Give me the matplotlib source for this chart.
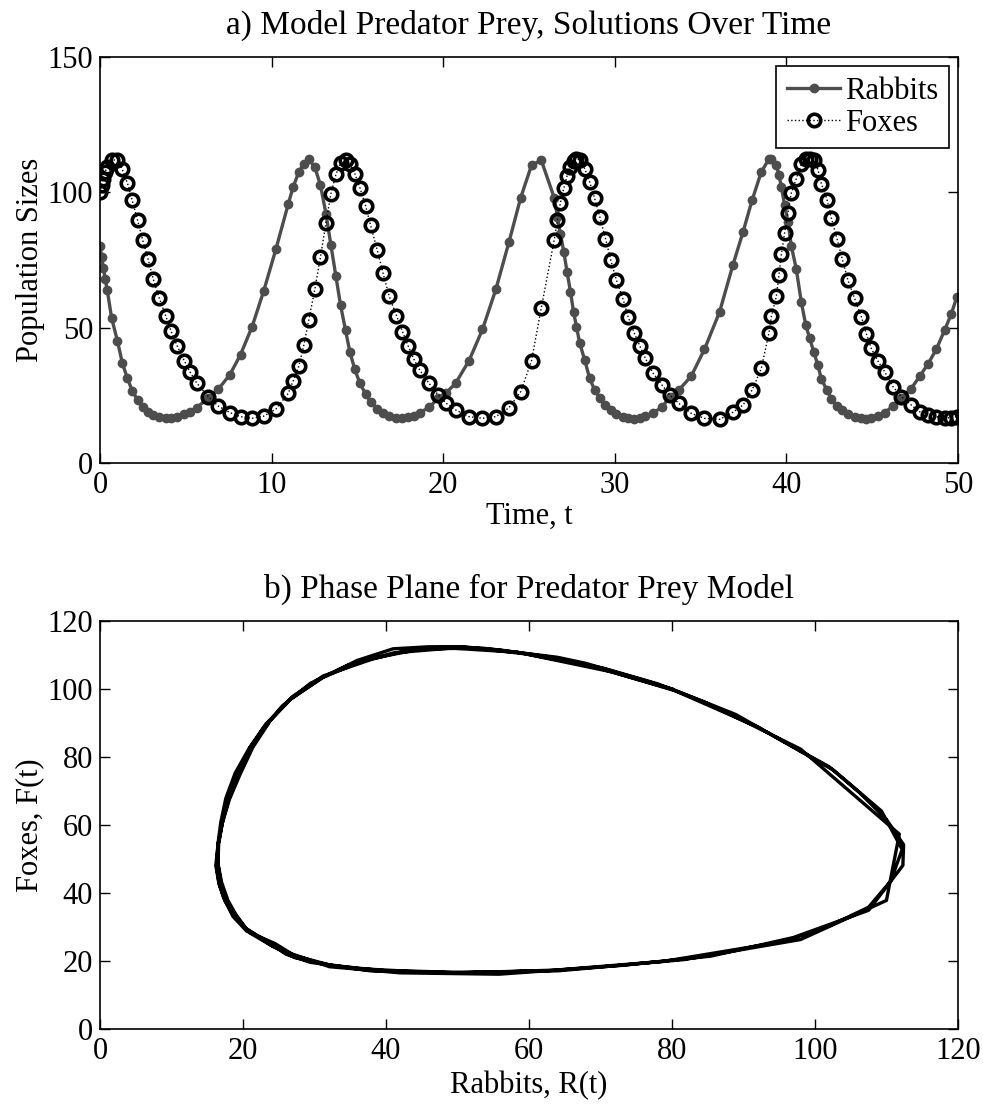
import matplotlib
matplotlib.use('Agg')
import matplotlib.pyplot as plt

plt.rcParams['font.family'] = ['Liberation Serif', 'DejaVu Serif']
plt.rcParams['mathtext.fontset'] = 'stix'

# solver output: time, rabbits, foxes
t = [0, 0.10, 0.20, 0.30, 0.42, 0.68, 1.02, 1.30, 1.60, 1.88, 2.19, 2.49, 2.81,
     3.11, 3.46, 3.83, 4.14, 4.50, 4.91, 5.24, 5.63, 6.31, 6.89, 7.57, 8.19,
     8.87, 9.55, 10.25, 10.97, 11.26, 11.59, 11.88, 12.17,
     12.52, 12.85, 13.17, 13.46, 13.75, 14.02, 14.31, 14.56, 14.85, 15.15,
     15.48, 15.77, 16.16, 16.50, 16.85, 17.28, 17.63, 17.96, 18.29, 18.64,
     19.18, 19.71, 20.19, 20.72, 21.51, 22.29, 23.07, 23.84,
     24.52, 25.15, 25.72, 26.47, 26.66, 26.83, 27.03, 27.22, 27.42, 27.60,
     27.77, 27.96, 28.25, 28.54, 28.83, 29.13, 29.46, 29.77, 30.10, 30.49,
     30.78, 31.13, 31.46, 31.79, 32.24, 32.76, 33.20, 33.72, 34.46, 35.23,
     36.11, 36.88,
     37.48, 38.00, 38.54, 38.99, 39.13, 39.42, 39.57, 39.71, 39.90, 40.10,
     40.29, 40.58, 40.87, 41.13, 41.36, 41.60, 41.84, 42.04, 42.37, 42.62,
     42.95, 43.26, 43.59, 43.98, 44.37, 44.66, 44.95, 45.34, 45.73, 46.21,
     46.70, 47.28, 47.77, 48.25, 48.74, 49.22, 49.61, 49.94]

rabbits = [80, 76, 72, 68, 64, 53.5, 45, 37, 31.2, 26.7, 23.2, 20.8, 18.9,
           17.6, 16.9, 16.5, 16.5, 17.0, 17.9, 19.0, 20.4, 24.0, 27.2, 32.6, 40.0,
           50.4, 63.7, 78.9, 95.6, 102.0, 107.5, 110.6, 112.2,
           109.3, 102.6, 92.1, 80.4, 69.0, 58.3, 49.1, 41.1, 34.6, 29.4,
           25.5, 22.6, 20.0, 18.3, 17.2, 16.6, 16.5, 16.9, 17.5, 18.6,
           20.5, 23.9, 26.0, 29.4, 37.8, 49.3, 64.1, 81.7,
           98.0, 110.0, 111.8, 98.0, 90.9, 84.7, 78.0, 70.6, 63.2, 55.8,
           50.3, 44.2, 38.0, 31.2, 26.9, 23.9, 21.4, 19.6, 18.1, 17.1,
           16.5, 16.2, 16.6, 17.3, 18.6, 20.5, 24.5, 26.8, 32.1, 42.0,
           55.8, 73.0,
           85.4, 97.0, 107.5, 112.3, 112.4, 110.0, 106.3, 102.0, 95.2, 88.9,
           80.2, 71.6, 59.5, 51.0, 46.0, 41.0, 36.0, 31.0, 26.8, 23.7,
           21.0, 19.4, 18.0, 17.1, 16.5, 16.3, 16.7, 17.5, 18.6, 21.0,
           24.0, 27.5, 32.0, 36.5, 42.0, 49.0, 55.0, 61.4]

foxes = [100, 102.6, 105, 107.5, 109.3, 112, 111.8, 108.5, 103.4, 97, 89.7, 82.3, 75.2,
         67.8, 60.8, 54.4, 48.7, 43.2, 37.8, 33.7, 29.6, 24.5, 21.0, 18.6, 17.1,
         16.5, 17.3, 19.9, 25.7, 30.3, 35.8, 43.5, 52.8,
         64.1, 76.1, 88.7, 99.5, 106.6, 110.8, 112.0, 110.6, 106.9, 101.6,
         95.0, 87.8, 78.6, 70.0, 61.7, 54.4, 48.5, 43.2, 38.3, 34.3,
         29.4, 25.1, 22.0, 19.6, 17.1, 16.5, 17.1, 20.4,
         26.3, 37.8, 57.3, 82.3, 89.7, 96.0, 101.5, 106.0, 109.3, 111.5,
         112.3, 112.0, 108.7, 103.8, 97.7, 90.9, 82.9, 74.9, 67.5, 60.4,
         54.0, 48.1, 43.2, 38.6, 33.1, 28.8, 25.1, 22.1, 18.3, 16.5,
         16.1, 18.7,
         21.4, 26.9, 34.9, 48.1, 54.2, 61.6, 69.4, 77.1, 85.0, 92.5,
         99.8, 105.0, 110.3, 112.4, 112.4, 111.8, 108.4, 103.2, 97.3, 90.5,
         82.9, 75.3, 67.5, 60.8, 54.0, 47.8, 42.3, 37.6, 33.7, 28.2,
         24.5, 21.4, 18.9, 17.7, 17.1, 16.7, 16.7, 17.1]

FS = 22


def style_axes(ax):
    ax.tick_params(direction='in', length=7, width=1, top=True, right=True,
                   labelsize=FS)
    ax.tick_params(axis='x', pad=6)
    ax.tick_params(axis='y', pad=5)
    for s in ax.spines.values():
        s.set_linewidth(1.2)


fig = plt.figure(figsize=(9.83, 11.07), dpi=100)

ax1 = fig.add_axes([0.1017, 0.5818, 0.8728, 0.3668])
ax1.plot(t, rabbits, '-', color='#4d4d4d', lw=2.4, marker='o', ms=6,
         label='Rabbits')
ax1.plot(t, foxes, ':', color='black', lw=1.0, marker='o', ms=9,
         mfc='none', mew=2.6, label='Foxes')
ax1.set_xlim(0, 50)
ax1.set_ylim(0, 150)
ax1.set_xticks([0, 10, 20, 30, 40, 50])
ax1.set_yticks([0, 50, 100, 150])
ax1.set_title('a) Model Predator Prey, Solutions Over Time', fontsize=24, pad=17)
ax1.set_xlabel('Time, t', fontsize=FS, labelpad=1)
ax1.set_ylabel('Population Sizes', fontsize=FS, labelpad=2)
leg = ax1.legend(loc='upper right', bbox_to_anchor=(0.9895, 0.978),
                 borderaxespad=0, fancybox=False, framealpha=1,
                 edgecolor='black', fontsize=FS, handlelength=1.75,
                 handletextpad=0.15, borderpad=0.35, labelspacing=0.1)
leg.get_frame().set_linewidth(1.2)
style_axes(ax1)

ax2 = fig.add_axes([0.1017, 0.0705, 0.8728, 0.3686])
ax2.plot(rabbits, foxes, '-', color='black', lw=2.4)
ax2.set_xlim(0, 120)
ax2.set_ylim(0, 120)
ax2.set_xticks(range(0, 121, 20))
ax2.set_yticks(range(0, 121, 20))
ax2.set_title('b) Phase Plane for Predator Prey Model', fontsize=24, pad=17)
ax2.set_xlabel('Rabbits, R(t)', fontsize=FS, labelpad=3)
ax2.set_ylabel('Foxes, F(t)', fontsize=FS, labelpad=2)
style_axes(ax2)

fig.savefig('out.png', dpi=100)
